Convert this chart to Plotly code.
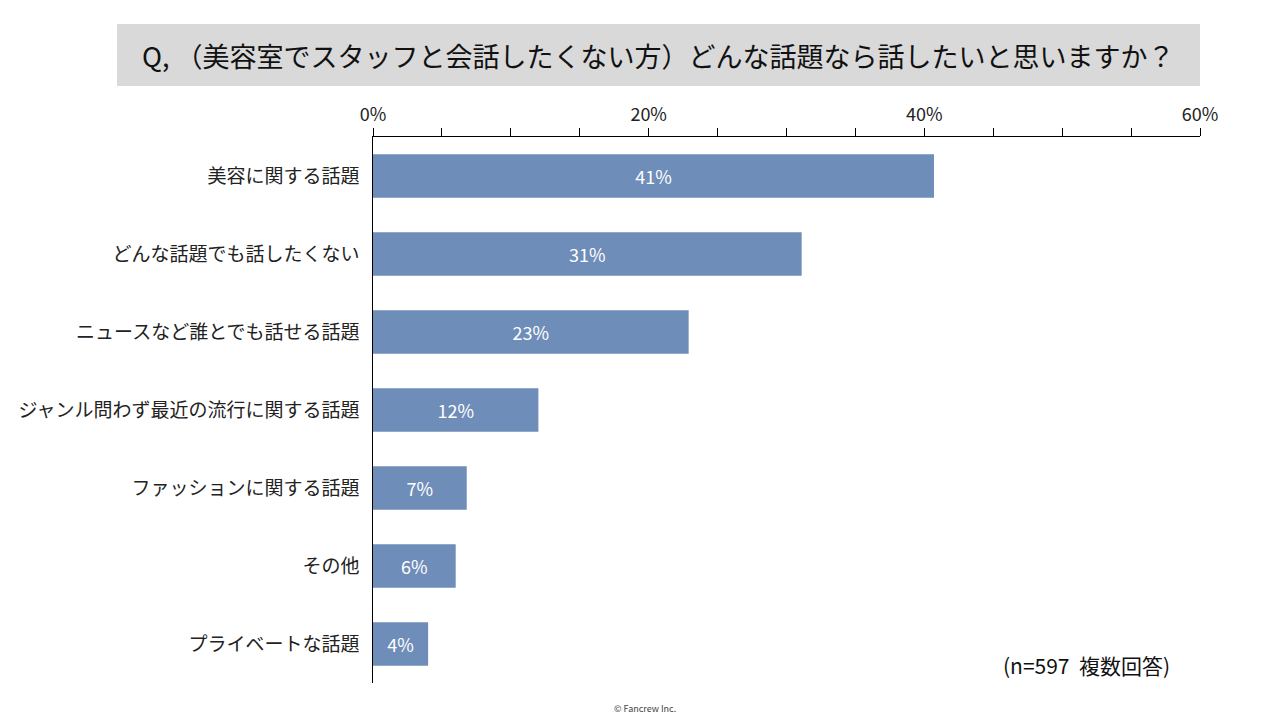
import plotly.graph_objects as go

categories = ["美容に関する話題", "どんな話題でも話したくない", "ニュースなど誰とでも話せる話題",
              "ジャンル問わず最近の流行に関する話題", "ファッションに関する話題", "その他", "プライベートな話題"]
values = [40.7, 31.1, 22.9, 12.0, 6.8, 6.0, 4.0]
labels = ["41%", "31%", "23%", "12%", "7%", "6%", "4%"]
tick_vals = [0, 20, 40, 60]
tick_text = ["0%", "20%", "40%", "60%"]

FONT = "Noto Sans CJK JP"
L, R, T, B = 373, 1200, 137, 683
W, H = 1280, 720

def px(x):
    return (x - L) / (R - L)

def py(y):
    return (B - y) / (B - T)

fig = go.Figure(go.Bar(
    x=values, y=categories, orientation="h",
    marker=dict(color="#6F8DB9", line=dict(width=0)),
    text=labels, textposition="inside", insidetextanchor="middle",
    textfont=dict(color="white", size=18, family=FONT),
    hoverinfo="skip",
))

fig.update_layout(
    width=W, height=H,
    margin=dict(l=L, r=W - R, t=T, b=H - B),
    paper_bgcolor="white", plot_bgcolor="white",
    bargap=0.44,
    showlegend=False,
    font=dict(family=FONT, color="#222222"),
    xaxis=dict(
        side="top", range=[0, 60], tickvals=tick_vals, ticktext=tick_text,
        ticks="outside", ticklen=8, tickcolor="black", tickwidth=1,
        showline=True, linecolor="black", linewidth=1.2,
        showgrid=False, zeroline=False,
        tickfont=dict(size=18, family=FONT, color="#222222"),
        minor=dict(dtick=5, tick0=0, ticks="outside", ticklen=8, tickcolor="black", showgrid=False),
        fixedrange=True,
    ),
    yaxis=dict(
        categoryorder="array", categoryarray=categories, autorange="reversed",
        showline=True, linecolor="black", linewidth=1.2,
        ticks="", showgrid=False, zeroline=False, ticksuffix="  ",
        tickfont=dict(size=19, family=FONT, color="#222222"),
        fixedrange=True,
    ),
    shapes=[dict(
        type="rect", xref="paper", yref="paper",
        x0=px(117), x1=px(1200), y0=py(86), y1=py(24),
        fillcolor="#D9D9D9", line=dict(width=0), layer="below",
    )],
    annotations=[
        dict(text="Q, （美容室でスタッフと会話したくない方）どんな話題なら話したいと思いますか？",
             xref="paper", yref="paper", x=px(658), y=py(55), showarrow=False,
             xanchor="center", yanchor="middle",
             font=dict(size=27, family=FONT, color="#111111")),
        dict(text="(n=597  複数回答)", xref="paper", yref="paper", x=px(1086), y=py(665),
             showarrow=False, xanchor="center", yanchor="middle",
             font=dict(size=21, family=FONT, color="#111111")),
        dict(text="© Fancrew Inc.", xref="paper", yref="paper", x=px(645), y=py(708),
             showarrow=False, xanchor="center", yanchor="middle",
             font=dict(size=9, family=FONT, color="#444444")),
    ],
)

fig.write_html("out.html")
